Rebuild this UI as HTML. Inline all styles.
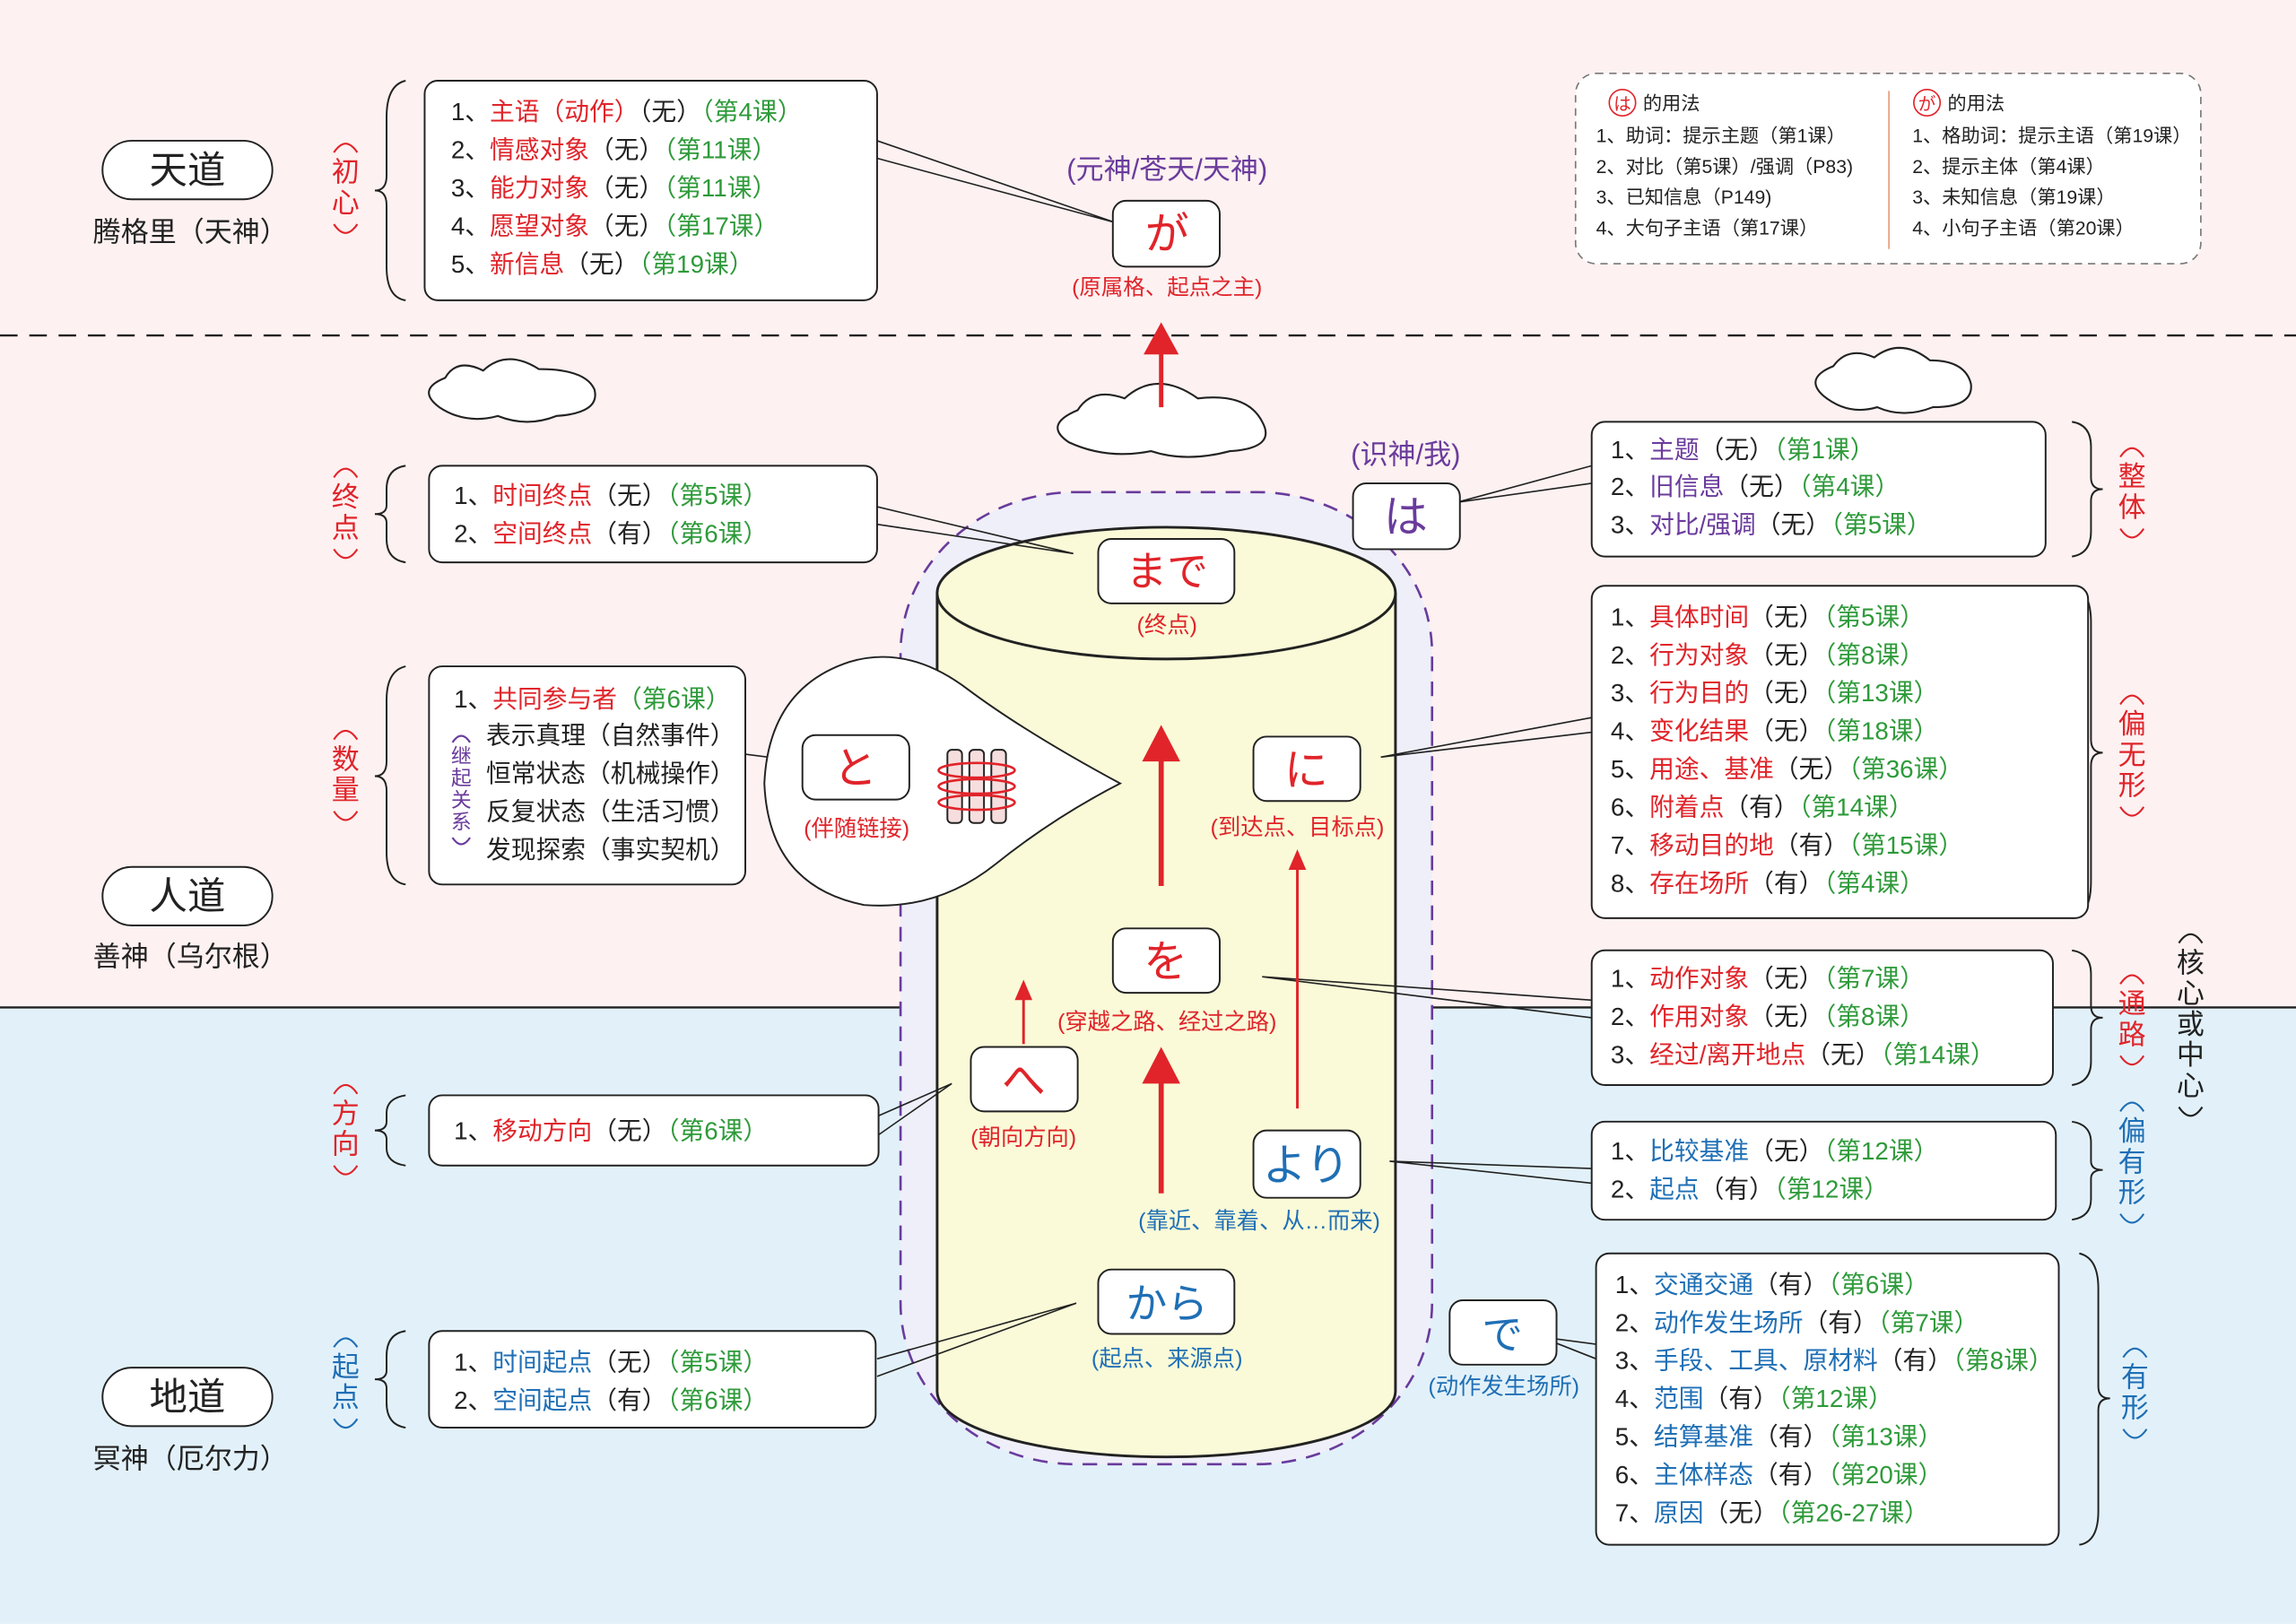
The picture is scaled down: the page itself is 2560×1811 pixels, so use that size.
<!DOCTYPE html>
<html><head><meta charset="utf-8"><style>
html,body{margin:0;padding:0;background:#fdf1f1}
svg{display:block}
text{font-family:"Liberation Sans","Noto Sans CJK SC",sans-serif}
.r{fill:#e0242a}.g{fill:#2e9a3a}.b{fill:#1f6fb5}.p{fill:#6a3b9c}.k{fill:#222}
.box{fill:#fff;stroke:#222;stroke-width:1.2}
.t16{font-size:17px}
.pr{fill:none;stroke-width:1.3}
</style></head><body>
<svg width="2560" height="1811" viewBox="0 0 1568 1109" xmlns="http://www.w3.org/2000/svg">
<rect x="0" y="0" width="1568" height="688" fill="#fdf1f1"/>
<rect x="0" y="688" width="1568" height="421" fill="#e2f1f9"/>
<line x1="0" y1="229" x2="1568" y2="229" stroke="#222" stroke-width="1.5" stroke-dasharray="12,8"/>
<line x1="0" y1="688" x2="1568" y2="688" stroke="#222" stroke-width="1.5"/>

<!-- left pills -->
<g text-anchor="middle">
<rect x="70" y="96" width="116" height="40" rx="20" class="box"/>
<text x="128" y="125" font-size="26" class="k">天道</text>
<text x="130" y="165" font-size="19" class="k">腾格里（天神）</text>
<rect x="70" y="592" width="116" height="40" rx="20" class="box"/>
<text x="128" y="621" font-size="26" class="k">人道</text>
<text x="130" y="660" font-size="19" class="k">善神（乌尔根）</text>
<rect x="70" y="934" width="116" height="40" rx="20" class="box"/>
<text x="128" y="963" font-size="26" class="k">地道</text>
<text x="130" y="1003" font-size="19" class="k">冥神（厄尔力）</text>
</g>

<!-- vertical labels -->
<g text-anchor="middle" font-size="19">
<g class="r"><text x="236" y="124">初</text><text x="236" y="145">心</text></g>
<g class="r"><text x="236" y="346">终</text><text x="236" y="367">点</text></g>
<g class="r"><text x="236" y="525">数</text><text x="236" y="546">量</text></g>
<g class="r"><text x="236" y="767">方</text><text x="236" y="788">向</text></g>
<g class="b"><text x="236" y="940">起</text><text x="236" y="961">点</text></g>
<g class="r"><text x="1456" y="332">整</text><text x="1456" y="353">体</text></g>
<g class="r"><text x="1456" y="501">偏</text><text x="1456" y="522">无</text><text x="1456" y="543">形</text></g>
<g class="r"><text x="1456" y="692">通</text><text x="1456" y="713">路</text></g>
<g class="b"><text x="1456" y="779">偏</text><text x="1456" y="800">有</text><text x="1456" y="821">形</text></g>
<g class="b"><text x="1458" y="947">有</text><text x="1458" y="968">形</text></g>
<g class="k"><text x="1496" y="664">核</text><text x="1496" y="685">心</text><text x="1496" y="706">或</text><text x="1496" y="727">中</text><text x="1496" y="748">心</text></g>
</g>
<g class="pr" stroke="#e0242a">
<path d="M228,104 Q236,92 244,104"/><path d="M228,153 Q236,165 244,153"/>
<path d="M228,326 Q236,314 244,326"/><path d="M228,375 Q236,387 244,375"/>
<path d="M228,505 Q236,493 244,505"/><path d="M228,554 Q236,566 244,554"/>
<path d="M228,747 Q236,735 244,747"/><path d="M228,796 Q236,808 244,796"/>
<path d="M1448,312 Q1456,300 1464,312"/><path d="M1448,361 Q1456,373 1464,361"/>
<path d="M1448,481 Q1456,469 1464,481"/><path d="M1448,551 Q1456,563 1464,551"/>
<path d="M1448,672 Q1456,660 1464,672"/><path d="M1448,721 Q1456,733 1464,721"/>
</g>
<g class="pr" stroke="#1f6fb5">
<path d="M228,920 Q236,908 244,920"/><path d="M228,969 Q236,981 244,969"/>
<path d="M1448,759 Q1456,747 1464,759"/><path d="M1448,829 Q1456,841 1464,829"/>
<path d="M1450,927 Q1458,915 1466,927"/><path d="M1450,976 Q1458,988 1466,976"/>
</g>
<g class="pr" stroke="#222">
<path d="M1488,644 Q1496,632 1504,644"/><path d="M1488,756 Q1496,768 1504,756"/>
</g>

<!-- braces -->
<g fill="none" stroke="#222" stroke-width="1.2">
<path d="M277,55 Q264,58 264,80 L264,120 Q264,130 256,130 Q264,130 264,140 L264,182 Q264,203 277,205"/>
<path d="M277,318 Q264,320 264,334 L264,345 Q264,351 256,351 Q264,351 264,357 L264,368 Q264,382 277,384"/>
<path d="M277,455 Q264,458 264,478 L264,520 Q264,530 256,530 Q264,530 264,540 L264,582 Q264,602 277,604"/>
<path d="M277,748 Q264,750 264,760 L264,766 Q264,772 256,772 Q264,772 264,778 L264,784 Q264,794 277,796"/>
<path d="M277,909 Q264,911 264,926 L264,936 Q264,942 256,942 Q264,942 264,948 L264,958 Q264,973 277,975"/>
<path d="M1415,288 Q1428,290 1428,305 L1428,326 Q1428,334 1436,334 Q1428,334 1428,342 L1428,363 Q1428,378 1415,380"/>
<path d="M1415,400 Q1428,403 1428,425 L1428,505 Q1428,514 1436,514 Q1428,514 1428,523 L1428,602 Q1428,625 1415,627"/>
<path d="M1415,649 Q1428,651 1428,665 L1428,687 Q1428,695 1436,695 Q1428,695 1428,703 L1428,725 Q1428,739 1415,741"/>
<path d="M1415,766 Q1428,768 1428,780 L1428,793 Q1428,799 1436,799 Q1428,799 1428,805 L1428,819 Q1428,831 1415,833"/>
<path d="M1420,856 Q1433,859 1433,880 L1433,947 Q1433,955 1441,955 Q1433,955 1433,963 L1433,1032 Q1433,1053 1420,1055"/>
</g>

<!-- top right dashed box -->
<rect x="1076" y="50" width="427" height="130" rx="14" fill="#fff" stroke="#777" stroke-dasharray="5,4"/>
<line x1="1290" y1="62" x2="1290" y2="170" stroke="#e79a7a"/>
<g font-size="13" class="k">
<circle cx="1108" cy="70" r="9" fill="none" stroke="#e0242a"/><text x="1108" y="75" text-anchor="middle" class="r" font-size="12">は</text>
<text x="1122" y="75">的用法</text>
<text x="1090" y="97">1、助词：提示主题（第1课）</text>
<text x="1090" y="118">2、对比（第5课）/强调（P83)</text>
<text x="1090" y="139">3、已知信息（P149)</text>
<text x="1090" y="160">4、大句子主语（第17课）</text>
<circle cx="1316" cy="70" r="9" fill="none" stroke="#e0242a"/><text x="1316" y="75" text-anchor="middle" class="r" font-size="12">が</text>
<text x="1330" y="75">的用法</text>
<text x="1306" y="97">1、格助词：提示主语（第19课）</text>
<text x="1306" y="118">2、提示主体（第4课）</text>
<text x="1306" y="139">3、未知信息（第19课）</text>
<text x="1306" y="160">4、小句子主语（第20课）</text>
</g>

<!-- clouds -->
<g fill="#fff" stroke="#222" stroke-width="1.3">
<path d="M300,278 Q284,266 304,258 Q312,244 330,253 Q346,238 368,252 Q400,252 406,266 Q410,282 380,284 Q360,292 340,284 Q318,290 300,278 Z"/>
<path d="M730,302 Q712,290 736,280 Q746,264 768,272 Q790,252 818,272 Q852,268 862,288 Q872,306 840,308 Q810,316 786,308 Q756,314 730,302 Z"/>
<path d="M1245,270 Q1232,258 1252,250 Q1262,236 1280,244 Q1298,230 1318,246 Q1342,246 1346,262 Q1348,278 1320,278 Q1300,286 1282,278 Q1262,284 1245,270 Z"/>
</g>

<!-- cylinder -->
<rect x="615" y="336" width="363" height="664" rx="120" ry="110" fill="#eeeff9" stroke="#6a3b9c" stroke-width="1.6" stroke-dasharray="10,7"/>
<path d="M640,405 L640,950 A156.5,45 0 0 0 953,950 L953,405" fill="#fafad8" stroke="#222" stroke-width="1.8"/>
<ellipse cx="796.5" cy="405" rx="156.5" ry="45" fill="#fafad8" stroke="#222" stroke-width="1.8"/>

<!-- connectors -->
<g fill="none" stroke="#222" stroke-width="1">
<polyline points="599,96 762,152 599,108"/>
<polyline points="599,346 733,378 599,358"/>
<polyline points="1087,318 995,343 1087,330"/>
<polyline points="1087,490 943,517 1087,500"/>
<polyline points="1087,683 862,667 1087,695"/>
<polyline points="600,762 650,740 600,775"/>
<polyline points="1087,798 949,793 1087,808"/>
<polyline points="599,928 735,890 599,940"/>
<polyline points="1090,918 1052,913 1090,928"/>
</g>

<!-- left boxes -->
<rect x="290" y="55" width="309" height="150" rx="9" class="box"/>
<g class="t16 k">
<text x="308" y="82">1、<tspan class="r">主语（动作）</tspan>（无）<tspan class="g">（第4课）</tspan></text>
<text x="308" y="108">2、<tspan class="r">情感对象</tspan>（无）<tspan class="g">（第11课）</tspan></text>
<text x="308" y="134">3、<tspan class="r">能力对象</tspan>（无）<tspan class="g">（第11课）</tspan></text>
<text x="308" y="160">4、<tspan class="r">愿望对象</tspan>（无）<tspan class="g">（第17课）</tspan></text>
<text x="308" y="186">5、<tspan class="r">新信息</tspan>（无）<tspan class="g">（第19课）</tspan></text>
</g>
<rect x="293" y="318" width="306" height="66" rx="9" class="box"/>
<g class="t16 k">
<text x="310" y="344">1、<tspan class="r">时间终点</tspan>（无）<tspan class="g">（第5课）</tspan></text>
<text x="310" y="370">2、<tspan class="r">空间终点</tspan>（有）<tspan class="g">（第6课）</tspan></text>
</g>
<rect x="293" y="455" width="216" height="149" rx="9" class="box"/>
<g class="t16 k">
<text x="310" y="483">1、<tspan class="r">共同参与者</tspan><tspan class="g">（第6课）</tspan></text>
<text x="332" y="508">表示真理（自然事件）</text>
<text x="332" y="534">恒常状态（机械操作）</text>
<text x="332" y="560">反复状态（生活习惯）</text>
<text x="332" y="586">发现探索（事实契机）</text>
</g>
<g class="p" font-size="14" text-anchor="middle">
<text x="315" y="521">继</text><text x="315" y="536">起</text><text x="315" y="551">关</text><text x="315" y="566">系</text>
</g>
<path class="pr" stroke="#6a3b9c" d="M309,507 Q315,498 321,507"/><path class="pr" stroke="#6a3b9c" d="M309,572 Q315,581 321,572"/>
<line x1="509" y1="515" x2="548" y2="520" stroke="#222"/>
<rect x="293" y="748" width="307" height="48" rx="9" class="box"/>
<text x="310" y="778" class="t16 k">1、<tspan class="r">移动方向</tspan>（无）<tspan class="g">（第6课）</tspan></text>
<rect x="293" y="909" width="305" height="66" rx="9" class="box"/>
<g class="t16 k">
<text x="310" y="936">1、<tspan class="b">时间起点</tspan>（无）<tspan class="g">（第5课）</tspan></text>
<text x="310" y="962">2、<tspan class="b">空间起点</tspan>（有）<tspan class="g">（第6课）</tspan></text>
</g>

<!-- right boxes -->
<rect x="1087" y="288" width="310" height="92" rx="9" class="box"/>
<g class="t16 k">
<text x="1100" y="313">1、<tspan class="p">主题</tspan>（无）<tspan class="g">（第1课）</tspan></text>
<text x="1100" y="338">2、<tspan class="p">旧信息</tspan>（无）<tspan class="g">（第4课）</tspan></text>
<text x="1100" y="364">3、<tspan class="p">对比/强调</tspan>（无）<tspan class="g">（第5课）</tspan></text>
</g>
<rect x="1087" y="400" width="339" height="227" rx="9" class="box"/>
<g class="t16 k">
<text x="1100" y="427">1、<tspan class="r">具体时间</tspan>（无）<tspan class="g">（第5课）</tspan></text>
<text x="1100" y="453">2、<tspan class="r">行为对象</tspan>（无）<tspan class="g">（第8课）</tspan></text>
<text x="1100" y="479">3、<tspan class="r">行为目的</tspan>（无）<tspan class="g">（第13课）</tspan></text>
<text x="1100" y="505">4、<tspan class="r">变化结果</tspan>（无）<tspan class="g">（第18课）</tspan></text>
<text x="1100" y="531">5、<tspan class="r">用途、基准</tspan>（无）<tspan class="g">（第36课）</tspan></text>
<text x="1100" y="557">6、<tspan class="r">附着点</tspan>（有）<tspan class="g">（第14课）</tspan></text>
<text x="1100" y="583">7、<tspan class="r">移动目的地</tspan>（有）<tspan class="g">（第15课）</tspan></text>
<text x="1100" y="609">8、<tspan class="r">存在场所</tspan>（有）<tspan class="g">（第4课）</tspan></text>
</g>
<rect x="1087" y="649" width="315" height="92" rx="9" class="box"/>
<g class="t16 k">
<text x="1100" y="674">1、<tspan class="r">动作对象</tspan>（无）<tspan class="g">（第7课）</tspan></text>
<text x="1100" y="700">2、<tspan class="r">作用对象</tspan>（无）<tspan class="g">（第8课）</tspan></text>
<text x="1100" y="726">3、<tspan class="r">经过/离开地点</tspan>（无）<tspan class="g">（第14课）</tspan></text>
</g>
<rect x="1087" y="766" width="317" height="67" rx="9" class="box"/>
<g class="t16 k">
<text x="1100" y="792">1、<tspan class="b">比较基准</tspan>（无）<tspan class="g">（第12课）</tspan></text>
<text x="1100" y="818">2、<tspan class="b">起点</tspan>（有）<tspan class="g">（第12课）</tspan></text>
</g>
<rect x="1090" y="856" width="316" height="199" rx="9" class="box"/>
<g class="t16 k">
<text x="1103" y="883">1、<tspan class="b">交通交通</tspan>（有）<tspan class="g">（第6课）</tspan></text>
<text x="1103" y="909">2、<tspan class="b">动作发生场所</tspan>（有）<tspan class="g">（第7课）</tspan></text>
<text x="1103" y="935">3、<tspan class="b">手段、工具、原材料</tspan>（有）<tspan class="g">（第8课）</tspan></text>
<text x="1103" y="961">4、<tspan class="b">范围</tspan>（有）<tspan class="g">（第12课）</tspan></text>
<text x="1103" y="987">5、<tspan class="b">结算基准</tspan>（有）<tspan class="g">（第13课）</tspan></text>
<text x="1103" y="1013">6、<tspan class="b">主体样态</tspan>（有）<tspan class="g">（第20课）</tspan></text>
<text x="1103" y="1039">7、<tspan class="b">原因</tspan>（无）<tspan class="g">（第26-27课）</tspan></text>
</g>

<!-- と bubble -->
<path d="M765,535 Q700,500 660,470 Q620,440 580,452 Q525,470 522,535 Q525,605 590,618 Q640,622 680,590 Q720,558 765,535 Z" fill="#fff" stroke="#222" stroke-width="1.2"/>
<g stroke="#222" stroke-width="1.2" fill="#f6dede">
<rect x="647" y="512" width="10" height="50" rx="3"/>
<rect x="662" y="512" width="10" height="50" rx="3"/>
<rect x="677" y="512" width="10" height="50" rx="3"/>
</g>
<g fill="none" stroke="#e0242a" stroke-width="1.6">
<ellipse cx="667" cy="526" rx="26" ry="5"/>
<ellipse cx="667" cy="537" rx="26" ry="5"/>
<ellipse cx="667" cy="548" rx="26" ry="5"/>
</g>

<!-- arrows -->
<g fill="#e0242a" stroke="#e0242a">
<line x1="793" y1="278" x2="793" y2="236" stroke-width="3"/><polygon points="781,242 805,242 793,220" stroke="none"/>
<line x1="793" y1="605" x2="793" y2="515" stroke-width="3.5"/><polygon points="780,520 806,520 793,495" stroke="none"/>
<line x1="793" y1="815" x2="793" y2="735" stroke-width="3.5"/><polygon points="780,740 806,740 793,715" stroke="none"/>
<line x1="699" y1="713" x2="699" y2="680" stroke-width="1.8"/><polygon points="693,683 705,683 699,669" stroke="none"/>
<line x1="886" y1="757" x2="886" y2="592" stroke-width="1.8"/><polygon points="880,594 892,594 886,580" stroke="none"/>
</g>

<!-- particle nodes -->
<g text-anchor="middle">
<text x="797" y="122" font-size="19" class="p">(元神/苍天/天神)</text>
<rect x="760" y="137" width="73" height="45" rx="9" class="box"/><text x="797" y="170" font-size="30" class="r">が</text>
<text x="797" y="201" font-size="15" class="r">(原属格、起点之主)</text>

<text x="960" y="317" font-size="19" class="p">(识神/我)</text>
<rect x="924" y="330" width="73" height="45" rx="9" class="box"/><text x="960" y="363" font-size="30" class="p">は</text>

<rect x="750" y="368" width="93" height="44" rx="9" class="box"/><text x="797" y="400" font-size="28" class="r">まで</text>
<text x="797" y="432" font-size="15.5" class="r">(终点)</text>

<rect x="548" y="502" width="73" height="44" rx="9" class="box"/><text x="584" y="535" font-size="30" class="r">と</text>
<text x="585" y="571" font-size="15.5" class="r">(伴随链接)</text>

<rect x="856" y="503" width="73" height="44" rx="9" class="box"/><text x="892" y="536" font-size="30" class="r">に</text>
<text x="886" y="570" font-size="15.5" class="r">(到达点、目标点)</text>

<rect x="760" y="634" width="73" height="44" rx="9" class="box"/><text x="796" y="667" font-size="30" class="r">を</text>
<text x="797" y="703" font-size="15.5" class="r">(穿越之路、经过之路)</text>

<rect x="663" y="715" width="73" height="44" rx="9" class="box"/><text x="699" y="748" font-size="30" class="r">へ</text>
<text x="699" y="782" font-size="15.5" class="r">(朝向方向)</text>

<rect x="856" y="772" width="73" height="46" rx="9" class="box"/><text x="892" y="806" font-size="30" class="b">より</text>
<text x="860" y="839" font-size="15.5" class="b">(靠近、靠着、从…而来)</text>

<rect x="750" y="867" width="93" height="44" rx="9" class="box"/><text x="797" y="900" font-size="28" class="b">から</text>
<text x="797" y="933" font-size="15.5" class="b">(起点、来源点)</text>

<rect x="990" y="888" width="73" height="44" rx="9" class="box"/><text x="1026" y="921" font-size="28" class="b">で</text>
<text x="1027" y="952" font-size="15.5" class="b">(动作发生场所)</text>
</g>
</svg>
</body></html>
